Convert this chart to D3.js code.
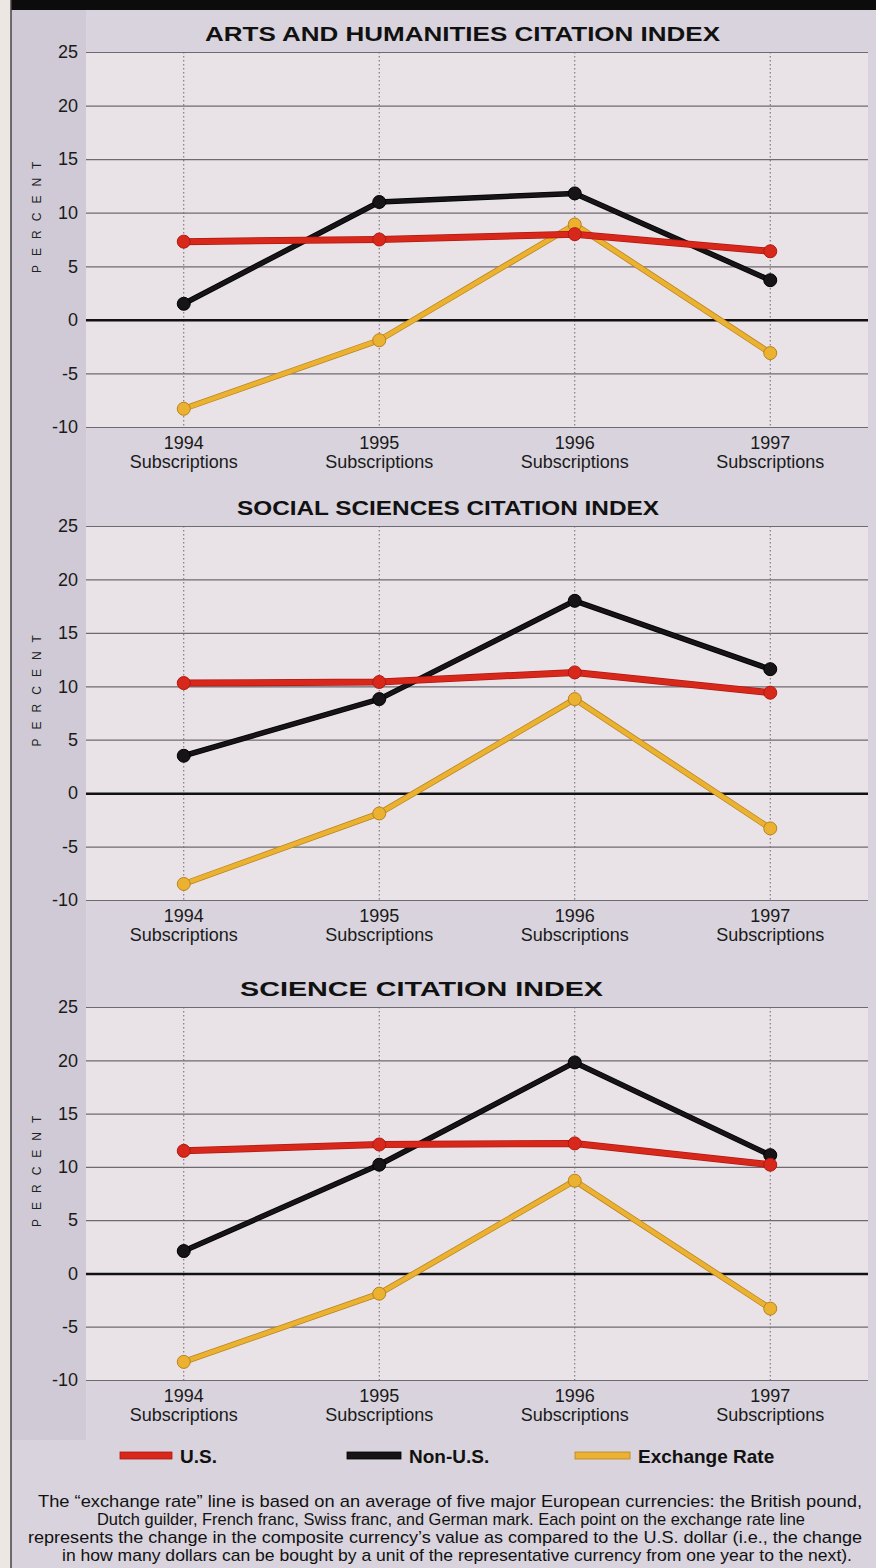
<!DOCTYPE html>
<html>
<head>
<meta charset="utf-8">
<script src="https://cdn.jsdelivr.net/npm/d3@7"></script>
<style>
  html, body { margin: 0; padding: 0; background: #ece7e2; }
  svg { display: block; }
  text { font-family: "Liberation Sans", Arial, sans-serif; }
</style>
</head>
<body>
<svg id="chart" width="876" height="1568"></svg>
<script>
// ---------- DATA ----------
const years = ["1994", "1995", "1996", "1997"];
const subLabel = "Subscriptions";
const panelTitles = ["ARTS AND HUMANITIES CITATION INDEX", "SOCIAL SCIENCES CITATION INDEX", "SCIENCE CITATION INDEX"];
const yTicks = [25, 20, 15, 10, 5, 0, -5, -10];
const yAxisTitle = "PERCENT";

const usArts      = [7.3, 7.5, 8.0, 6.4];
const nonUsArts   = [1.5, 11.0, 11.8, 3.7];
const exchArts    = [-8.3, -1.9, 8.9, -3.1];

const usSocial    = [10.3, 10.4, 11.3, 9.4];
const nonUsSocial = [3.5, 8.8, 18.0, 11.6];
const exchSocial  = [-8.5, -1.9, 8.8, -3.3];

const usScience    = [11.5, 12.1, 12.2, 10.2];
const nonUsScience = [2.1, 10.2, 19.8, 11.1];
const exchScience  = [-8.3, -1.9, 8.7, -3.3];

const legendLabels = ["U.S.", "Non-U.S.", "Exchange Rate"];
const captionLines = [
  "The \u201cexchange rate\u201d line is based on an average of five major European currencies: the British pound,",
  "Dutch guilder, French franc, Swiss franc, and German mark. Each point on the exchange rate line",
  "represents the change in the composite currency\u2019s value as compared to the U.S. dollar (i.e., the change",
  "in how many dollars can be bought by a unit of the representative currency from one year to the next)."
];

// ---------- LAYOUT / STYLE ----------
const panels = [
  { title: panelTitles[0], us: usArts, non: nonUsArts, ex: exchArts },
  { title: panelTitles[1], us: usSocial, non: nonUsSocial, ex: exchSocial },
  { title: panelTitles[2], us: usScience, non: nonUsScience, ex: exchScience }
];
const layout = [
  { top: 52, bottom: 427, titleX: 205, titleW: 515 },
  { top: 526, bottom: 900, titleX: 237, titleW: 422 },
  { top: 1007, bottom: 1380, titleX: 240, titleW: 363 }
];
const captionLayout = [
  { x: 38, w: 824 }, { x: 97, w: 708 }, { x: 28, w: 834 }, { x: 62, w: 790 }
];
const plotLeft = 86, plotRight = 868;
const colors = {
  us: "#d8281c", usEdge: "#b01810",
  non: "#161416", nonEdge: "#000",
  ex: "#ebb232", exEdge: "#b9821c"
};

const svg = d3.select("#chart");

// Background: paper, panel, left strip, top bar
svg.append("rect").attr("x", 0).attr("y", 0).attr("width", 876).attr("height", 1568).attr("fill", "#ece7e2");
svg.append("rect").attr("x", 11).attr("y", 0).attr("width", 865).attr("height", 1568).attr("fill", "#d8d3dc");
svg.append("rect").attr("x", 11).attr("y", 0).attr("width", 75).attr("height", 1440).attr("fill", "#cfcad6");
svg.append("rect").attr("x", 11).attr("y", 0).attr("width", 865).attr("height", 10).attr("fill", "#0c0c0c");
svg.append("line").attr("x1", 11).attr("x2", 11).attr("y1", 0).attr("y2", 1568)
  .attr("stroke", "#444").attr("stroke-width", 1.5);

const x = d3.scalePoint().domain(years).range([plotLeft, plotRight]).padding(0.5);

panels.forEach((p, i) => {
  const L = layout[i];
  const y = d3.scaleLinear().domain([-10, 25]).range([L.bottom, L.top]);
  const g = svg.append("g");

  // plot area
  g.append("rect").attr("x", plotLeft).attr("y", L.top)
    .attr("width", plotRight - plotLeft).attr("height", L.bottom - L.top)
    .attr("fill", "#e9e3e7");

  // title
  g.append("text").attr("x", L.titleX).attr("y", L.top - 11)
    .attr("textLength", L.titleW).attr("lengthAdjust", "spacingAndGlyphs")
    .attr("font-size", 21).attr("font-weight", "bold").attr("fill", "#111")
    .text(p.title);

  // vertical dotted category lines
  g.selectAll(".vgrid").data(years).enter().append("line")
    .attr("x1", d => x(d)).attr("x2", d => x(d))
    .attr("y1", y(25)).attr("y2", y(-10))
    .attr("stroke", "#6c6870").attr("stroke-width", 1)
    .attr("stroke-dasharray", "1.5,2.5");

  // horizontal gridlines via axis
  const yAxis = d3.axisLeft(y).tickValues(yTicks)
    .tickSize(-(plotRight - plotLeft)).tickPadding(8)
    .tickFormat(d => String(d));
  const ag = g.append("g").attr("transform", `translate(${plotLeft},0)`).call(yAxis);
  ag.select(".domain").remove();
  ag.selectAll(".tick line")
    .attr("stroke", d => d === 0 ? "#111" : "#6e6a72")
    .attr("stroke-width", d => d === 0 ? 2.5 : 1.2);
  ag.selectAll(".tick text")
    .attr("font-size", 18).attr("fill", "#1a1a1a")
    .attr("font-family", "'Liberation Sans', Arial, sans-serif");

  // PERCENT label
  const midY = y(10);
  g.append("text")
    .attr("transform", `translate(41,${midY}) rotate(-90)`)
    .attr("text-anchor", "middle")
    .attr("font-size", 12).attr("letter-spacing", 9).attr("fill", "#222")
    .text(yAxisTitle);

  // x labels
  const xl = g.selectAll(".xl").data(years).enter().append("g")
    .attr("transform", d => `translate(${x(d)},${L.bottom})`);
  xl.append("text").attr("y", 22).attr("text-anchor", "middle")
    .attr("font-size", 18).attr("fill", "#1a1a1a").text(d => d);
  xl.append("text").attr("y", 41).attr("text-anchor", "middle")
    .attr("font-size", 18).attr("fill", "#1a1a1a").text(subLabel);

  // lines
  const series = [
    { vals: p.ex, c: colors.ex, e: colors.exEdge, w: 4.5 },
    { vals: p.non, c: colors.non, e: colors.nonEdge, w: 4 },
    { vals: p.us, c: colors.us, e: colors.usEdge, w: 5.5 }
  ];
  const line = d3.line().x((d, j) => x(years[j])).y(d => y(d));
  series.forEach(s => {
    g.append("path").datum(s.vals).attr("d", line)
      .attr("fill", "none").attr("stroke", s.e).attr("stroke-width", s.w + 1.5)
      .attr("stroke-linejoin", "round");
    g.append("path").datum(s.vals).attr("d", line)
      .attr("fill", "none").attr("stroke", s.c).attr("stroke-width", s.w)
      .attr("stroke-linejoin", "round");
    g.selectAll(null).data(s.vals).enter().append("circle")
      .attr("cx", (d, j) => x(years[j])).attr("cy", d => y(d))
      .attr("r", 6.5).attr("fill", s.c).attr("stroke", s.e).attr("stroke-width", 1);
  });
});

// Legend
const legendItems = [
  { label: legendLabels[0], c: colors.us, e: colors.usEdge, x1: 120, x2: 172 },
  { label: legendLabels[1], c: colors.non, e: colors.nonEdge, x1: 347, x2: 401 },
  { label: legendLabels[2], c: colors.ex, e: colors.exEdge, x1: 575, x2: 630 }
];
const ly = 1456;
legendItems.forEach(it => {
  svg.append("rect").attr("x", it.x1).attr("y", ly - 4).attr("width", it.x2 - it.x1).attr("height", 7)
    .attr("fill", it.c).attr("stroke", it.e).attr("stroke-width", 0.8);
  svg.append("text").attr("x", it.x2 + 8).attr("y", ly + 7)
    .attr("font-size", 19).attr("font-weight", "bold").attr("fill", "#111")
    .text(it.label);
});

// Caption
svg.selectAll(".cap").data(captionLines).enter().append("text")
  .attr("x", (d, i) => captionLayout[i].x).attr("y", (d, i) => 1507 + i * 18)
  .attr("textLength", (d, i) => captionLayout[i].w).attr("lengthAdjust", "spacingAndGlyphs")
  .attr("font-size", 17).attr("fill", "#111")
  .text(d => d);
</script>
</body>
</html>
